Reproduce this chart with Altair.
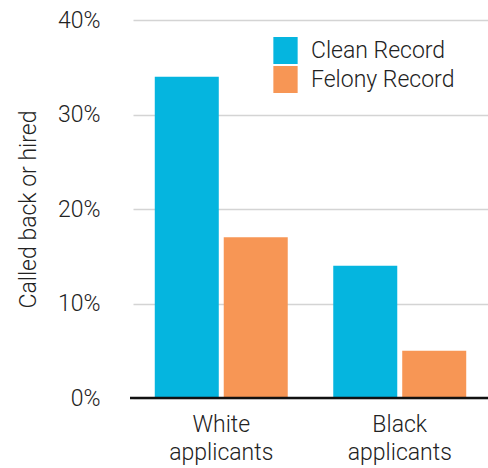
import altair as alt
import pandas as pd

groups = ["White applicants", "Black applicants"]
records = ["Clean Record", "Felony Record"]
clean_rates = [0.34, 0.14]
felony_rates = [0.17, 0.05]

rows = []
for g, c, f in zip(groups, clean_rates, felony_rates):
    rows.append({"group": g, "record": records[0], "rate": c})
    rows.append({"group": g, "record": records[1], "rate": f})
df = pd.DataFrame(rows)

FONT = "Roboto"
TEXT = "#222222"
W, H = 355, 378

bars = alt.Chart(df).mark_bar().encode(
    x=alt.X("group:N", sort=groups, title=None,
            scale=alt.Scale(paddingInner=0.255, paddingOuter=0.122),
            axis=alt.Axis(labelExpr="split(datum.label, ' ')", labelAngle=0,
                          labelFont=FONT, labelFontSize=23, labelFontWeight=300,
                          labelColor=TEXT, labelLineHeight=28, labelPadding=15,
                          ticks=False, domain=False, labelBaseline="top")),
    xOffset=alt.XOffset("record:N", sort=records,
                        scale=alt.Scale(paddingInner=0.072, paddingOuter=0)),
    y=alt.Y("rate:Q", title="Called back or hired",
            scale=alt.Scale(domain=[0, 0.4], nice=False),
            axis=alt.Axis(values=[0, 0.1, 0.2, 0.3, 0.4], format=".0%",
                          labelFont=FONT, labelFontSize=23, labelFontWeight=300,
                          labelColor=TEXT, labelPadding=33, ticks=False, domain=False,
                          gridColor="#d4d4d4", gridWidth=1.5,
                          titleFont=FONT, titleFontSize=23, titleFontWeight=300,
                          titleColor=TEXT, titlePadding=17)),
    color=alt.Color("record:N", sort=records, title=None,
                    scale=alt.Scale(domain=records, range=["#05b5df", "#f79655"]),
                    legend=alt.Legend(orient="none", legendX=139, legendY=17,
                                      symbolType="M-0.9,-1H0.9V1H-0.9Z",
                                      symbolSize=729, symbolStrokeWidth=0,
                                      symbolOpacity=1, rowPadding=2,
                                      labelFont=FONT, labelFontSize=23,
                                      labelFontWeight=300, labelColor=TEXT,
                                      labelOffset=12)),
)

baseline = alt.Chart(pd.DataFrame({"y": [0]})).mark_rule(color="#111111", strokeWidth=2.5).encode(
    y="y:Q", x=alt.value(-3), x2=alt.value(W)
)

chart = alt.layer(bars, baseline).properties(
    width=W, height=H,
    autosize=alt.AutoSizeParams(type="none"),
    padding={"left": 133, "top": 20, "right": 0, "bottom": 70},
).configure_view(stroke=None)

chart.save("out.html", embed_options={"renderer": "svg", "actions": False})
